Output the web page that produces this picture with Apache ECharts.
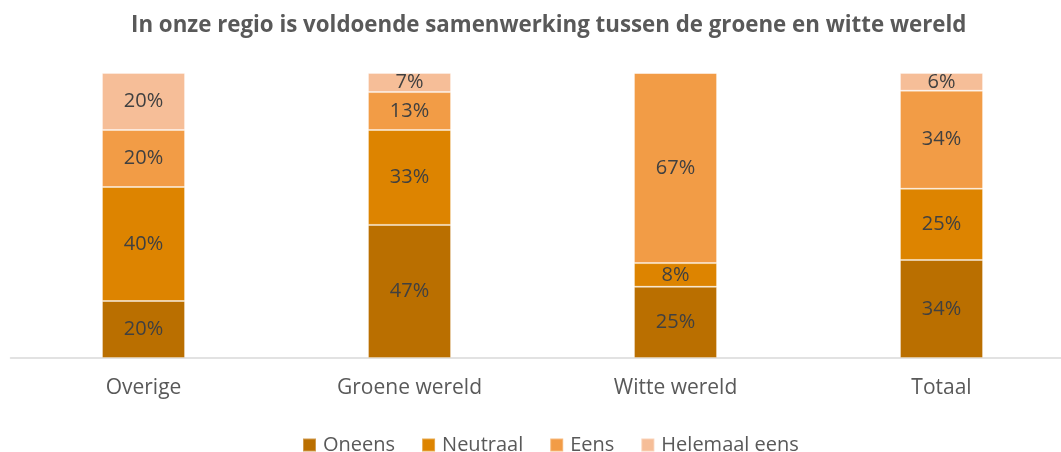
<!DOCTYPE html>
<html><head><meta charset="utf-8">
<script src="https://cdn.jsdelivr.net/npm/echarts@6/dist/echarts.min.js"></script>
<style>html,body{margin:0;padding:0;background:#fff}#c{width:1061px;height:452px}</style>
</head><body><div id="c"></div>
<script>
const title = 'In onze regio is voldoende samenwerking tussen de groene en witte wereld';
const categories = ['Overige', 'Groene wereld', 'Witte wereld', 'Totaal'];
const seriesNames = ['Oneens', 'Neutraal', 'Eens', 'Helemaal eens'];
const oneens = [20, 46.7, 25, 34.4];
const neutraal = [40, 33.3, 8.3, 25];
const eens = [20, 13.3, 66.7, 34.4];
const helemaalEens = [20, 6.7, 0, 6.2];
const colors = ['#BA6F00', '#DD8400', '#F29C46', '#F6BE98'];
const FONT = 'Open Sans';
const values = [oneens, neutraal, eens, helemaalEens];

const chart = echarts.init(document.getElementById('c'));
chart.setOption({
  animation: false,
  textStyle: { fontFamily: FONT },
  title: {
    text: title, left: 126, top: 10,
    textStyle: { fontFamily: FONT, fontSize: 22.3, fontWeight: 'bold', color: '#595959' }
  },
  legend: {
    left: 297, top: 430, itemWidth: 13, itemHeight: 13, itemGap: 26,
    icon: 'rect',
    textStyle: { fontFamily: FONT, fontSize: 20, color: '#595959', padding: [0, 0, 0, 2] },
    data: seriesNames
  },
  grid: { left: 10.5, width: 1064, top: 73, height: 285, containLabel: false, outerBoundsMode: 'none' },
  xAxis: {
    type: 'category', data: categories,
    axisLine: { lineStyle: { color: '#D9D9D9', width: 1.5 } },
    axisTick: { show: false },
    axisLabel: { fontFamily: FONT, fontSize: 21, color: '#595959', margin: 20 }
  },
  yAxis: { type: 'value', min: 0, max: 100, show: false, splitLine: { show: false } },
  series: seriesNames.map((n, i) => ({
    name: n, type: 'bar', stack: 'all', barWidth: 83,
    data: values[i],
    itemStyle: { color: colors[i], borderColor: 'rgba(255,255,255,0.3)', borderWidth: 1 },
    label: {
      show: true, position: 'inside', fontFamily: FONT, fontSize: 20, color: '#404040',
      formatter: p => p.value > 0 ? Math.round(p.value) + '%' : ''
    }
  }))
});
</script></body></html>
